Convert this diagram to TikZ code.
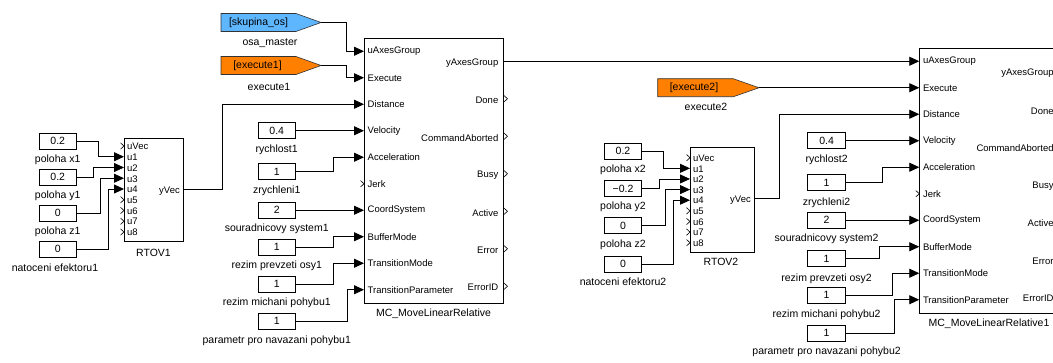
\documentclass[tikz,border=0pt]{standalone}
\usepackage{fontspec}
\setmainfont{Liberation Sans}
\usetikzlibrary{arrows.meta}
\newcommand*\portfont{\fontsize{9.5}{11}\selectfont}
\newcommand*\lblfont{\fontsize{10.5}{12}\selectfont}
\definecolor{gotoblue}{RGB}{94,182,255}
\definecolor{gotoorange}{RGB}{255,128,0}
\tikzset{
  blk/.style={draw, line width=0.8pt, fill=white, inner sep=0pt, anchor=north west},
  cbox/.style={draw, line width=0.8pt, minimum width=37.5pt, minimum height=16pt, inner sep=0pt, font=\lblfont},
  lbl/.style={font=\lblfont, inner sep=0pt},
  pin/.style={font=\portfont, inner sep=0pt, anchor=west},
  pout/.style={font=\portfont, inner sep=0pt, anchor=east},
  sig/.style={line width=0.8pt, -{Triangle[length=10pt,width=9pt]}},
  gotoshape/.style={draw=black!80, line width=0.6pt},
  chev/.pic={\draw[line width=0.6pt] (-3.5,-3.2) -- (0,0) -- (-3.5,3.2);},
}
\begin{document}
\begin{tikzpicture}[x=1pt,y=-1pt]
\useasboundingbox (0,0) rectangle (1053,363);
\fill[white] (0,0) rectangle (1053,363);
\clip (0,0) rectangle (1053,363);

% ---------------- RTOV1 group ----------------
\node[blk, minimum width=59pt, minimum height=103pt] (rt1) at (124,138) {};
\foreach \t [count=\i from 0] in {uVec,u1,u2,u3,u4,u5,u6,u7,u8}{
  \coordinate (rt1i\i) at (124,{146+10.75*\i});
  \node[pin] (rt1l\i) at (127,{146.5+10.75*\i}) {\t};
}
\foreach \i in {0,5,6,7,8}{ \pic at (rt1i\i) {chev}; }
\coordinate (rt1o) at (183,189);
\node[pout] (rt1ol) at (180,191) {yVec};
\node[lbl] (rt1name) at (153.5,253) {RTOV1};

\node[cbox] (k1) at (57.75,141) {0.2};
\node[lbl] (k1l) at (57.75,160) {poloha x1};
\node[cbox] (k2) at (57.75,177) {0.2};
\node[lbl] (k2l) at (57.75,196) {poloha y1};
\node[cbox] (k3) at (57.75,213) {0};
\node[lbl] (k3l) at (57.75,232) {poloha z1};
\node[cbox] (k4) at (57.75,249) {0};
\node[lbl] (k4l) at (55,268) {natoceni efektoru1};

\draw[sig] (k1.east) -- ++(21.5,0) |- (rt1i1);
\draw[sig] (k2.east) -- ++(16.5,0) |- (rt1i2);
\draw[sig] (k3.east) -- ++(23.5,0) |- (rt1i3);
\draw[sig] (k4.east) -- ++(31.5,0) |- (rt1i4);

% ---------------- MC block 1 ----------------
\node[blk, minimum width=139pt, minimum height=265pt] (mc1) at (364,38) {};
\foreach \t [count=\i from 0] in {uAxesGroup,Execute,Distance,Velocity,Acceleration,Jerk,CoordSystem,BufferMode,TransitionMode,TransitionParameter}{
  \coordinate (mc1i\i) at (364,{51.25+26.5*\i});
  \node[pin] (mc1il\i) at (367.5,{51.5+26.5*\i}) {\t};
}
\pic at (mc1i5) {chev};
\foreach \t [count=\i from 0] in {yAxesGroup,Done,CommandAborted,Busy,Active,Error,ErrorID}{
  \coordinate (mc1o\i) at (503,{61.25+37.5*\i});
  \node[pout] (mc1ol\i) at (498.5,{62.75+37.5*\i}) {\t};
}
\foreach \i in {1,...,6}{ \pic at ([xshift=4.5pt]mc1o\i) {chev}; }
\node[lbl] (mc1name) at (433.5,313.5) {MC\_MoveLinearRelative};

% gotos block 1
\draw[gotoshape, fill=gotoblue] (221,13.5) -- (296,13.5) -- (321,22.5) -- (296,31.5) -- (221,31.5) -- cycle;
\node[lbl] (g1t) at (258.5,22.5) {[skupina\_os]};
\coordinate (g1) at (321,22.5);
\node[lbl] (g1l) at (270,43) {osa\_master};
\draw[gotoshape, fill=gotoorange] (221,56.5) -- (296,56.5) -- (321,65.5) -- (296,74.5) -- (221,74.5) -- cycle;
\node[lbl] (g2t) at (257.5,65.5) {[execute1]};
\coordinate (g2) at (321,65.5);
\node[lbl] (g2l) at (269,87) {execute1};
\draw[sig] (g1) -- ++(25,0) |- (mc1i0);
\draw[sig] (g2) -- ++(25,0) |- (mc1i1);

\draw[sig] (rt1o) -- ++(39,0) |- (mc1i2);

% const column 1
\node[cbox] (kv1) at (276.75,130.75) {0.4};
\node[lbl] (kv1l) at (276.75,149.5) {rychlost1};
\node[cbox] (ka1) at (276.75,171.5) {1};
\node[lbl] (ka1l) at (276.75,190.5) {zrychleni1};
\node[cbox] (kc1) at (276.75,210.25) {2};
\node[lbl] (kc1l) at (276.75,229) {souradnicovy system1};
\node[cbox] (kb1) at (276.75,247) {1};
\node[lbl] (kb1l) at (276.75,266) {rezim prevzeti osy1};
\node[cbox] (km1) at (276.75,284) {1};
\node[lbl] (km1l) at (276.75,303) {rezim michani pohybu1};
\node[cbox] (kp1) at (276.75,321.3) {1};
\node[lbl] (kp1l) at (276.75,340.5) {parametr pro navazani pohybu1};

\draw[sig] (kv1.east) -- (mc1i3);
\draw[sig] (ka1.east) -- ++(37.8,0) |- (mc1i4);
\draw[sig] (kc1.east) -- (mc1i6);
\draw[sig] (kb1.east) -- ++(37.8,0) |- (mc1i7);
\draw[sig] (km1.east) -- ++(37.8,0) |- (mc1i8);
\draw[sig] (kp1.east) -- ++(51.8,0) |- (mc1i9);

% ---------------- RTOV2 group ----------------
\node[blk, minimum width=64pt, minimum height=104.4pt] (rt2) at (690,147.3) {};
\foreach \t [count=\i from 0] in {uVec,u1,u2,u3,u4,u5,u6,u7,u8}{
  \coordinate (rt2i\i) at (690,{157.7+10.63*\i});
  \node[pin] (rt2l\i) at (693,{158.2+10.63*\i}) {\t};
}
\foreach \i in {0,5,6,7,8}{ \pic at (rt2i\i) {chev}; }
\coordinate (rt2o) at (754,198.3);
\node[pout] (rt2ol) at (751,200.5) {yVec};
\node[lbl] (rt2name) at (721,262.3) {RTOV2};

\node[cbox] (k5) at (623,151.3) {0.2};
\node[lbl] (k5l) at (623,170) {poloha x2};
\node[cbox] (k6) at (623,188.7) {−0.2};
\node[lbl] (k6l) at (623,206.7) {poloha y2};
\node[cbox] (k7) at (623,225.8) {0};
\node[lbl] (k7l) at (623,244.3) {poloha z2};
\node[cbox] (k8) at (623,264) {0};
\node[lbl] (k8l) at (623,281.7) {natoceni efektoru2};

\draw[sig] (k5.east) -- ++(21.55,0) |- (rt2i1);
\draw[sig] (k6.east) -- ++(16.95,0) |- (rt2i2);
\draw[sig] (k7.east) -- ++(23.55,0) |- (rt2i3);
\draw[sig] (k8.east) -- ++(30.95,0) |- (rt2i4);

% ---------------- MC block 2 ----------------
\node[blk, minimum width=139pt, minimum height=265pt] (mc2) at (919.3,48) {};
\foreach \t [count=\i from 0] in {uAxesGroup,Execute,Distance,Velocity,Acceleration,Jerk,CoordSystem,BufferMode,TransitionMode,TransitionParameter}{
  \coordinate (mc2i\i) at (919.3,{61.25+26.5*\i});
  \node[pin] (mc2il\i) at (922.8,{61.5+26.5*\i}) {\t};
}
\pic at (mc2i5) {chev};
\foreach \t [count=\i from 0] in {yAxesGroup,Done,CommandAborted,Busy,Active,Error,ErrorID}{
  \node[pout] (mc2ol\i) at (1053.8,{73.3+37.5*\i}) {\t};
}
\node[lbl] (mc2name) at (989,324) {MC\_MoveLinearRelative1};

\draw[sig] (mc1o0) -- (mc2i0);

\draw[gotoshape, fill=gotoorange] (657.7,78.75) -- (733.3,78.75) -- (759,87.75) -- (733.3,96.75) -- (657.7,96.75) -- cycle;
\node[lbl] (g3t) at (694,87.75) {[execute2]};
\coordinate (g3) at (759,87.75);
\node[lbl] (g3l) at (706,107.3) {execute2};
\draw[sig] (g3) -- (mc2i1);

\draw[sig] (rt2o) -- ++(25.5,0) |- (mc2i2);

% const column 2
\node[cbox] (kv2) at (826.6,140.75) {0.4};
\node[lbl] (kv2l) at (826.6,159.75) {rychlost2};
\node[cbox] (ka2) at (826.6,182.7) {1};
\node[lbl] (ka2l) at (826.6,202.5) {zrychleni2};
\node[cbox] (kc2) at (826.6,220.25) {2};
\node[lbl] (kc2l) at (826.6,239) {souradnicovy system2};
\node[cbox] (kb2) at (826.6,258.7) {1};
\node[lbl] (kb2l) at (826.6,278.5) {rezim prevzeti osy2};
\node[cbox] (km2) at (826.6,295) {1};
\node[lbl] (km2l) at (826.6,314.5) {rezim michani pohybu2};
\node[cbox] (kp2) at (826.6,333.3) {1};
\node[lbl] (kp2l) at (826.6,351.5) {parametr pro navazani pohybu2};

\draw[sig] (kv2.east) -- (mc2i3);
\draw[sig] (ka2.east) -- ++(36.95,0) |- (mc2i4);
\draw[sig] (kc2.east) -- (mc2i6);
\draw[sig] (kb2.east) -- ++(33.95,0) |- (mc2i7);
\draw[sig] (km2.east) -- ++(46.35,0) |- (mc2i8);
\draw[sig] (kp2.east) -- ++(48.95,0) |- (mc2i9);
\end{tikzpicture}
\end{document}
